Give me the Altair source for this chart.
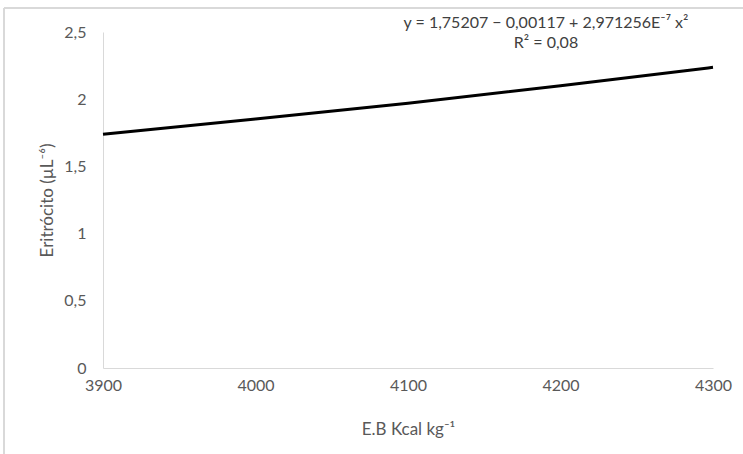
import altair as alt
import pandas as pd

# Data
energia = [3900, 4000, 4100, 4200, 4300]
eritrocito = [1.74, 1.853, 1.97, 2.10, 2.237]

x_ticks = [3900, 4000, 4100, 4200, 4300]
y_ticks = [0, 0.5, 1, 1.5, 2, 2.5]

eq_line1 = "y = 1,75207 \u2212 0,00117 + 2,971256E\u207b\u2077 x\u00b2"
eq_line2 = "R\u00b2 = 0,08"

FONT = "Lato"
GRAY = "#595959"

df = pd.DataFrame({"x": energia, "y": eritrocito})

W, H = 610, 336
PL, PT = 103, 32

x_enc = alt.X(
    "x:Q",
    scale=alt.Scale(domain=[3900, 4300], nice=False),
    axis=alt.Axis(
        values=x_ticks, format="d", ticks=False, grid=False,
        domainColor="#d9d9d9", domainWidth=1,
        labelFont=FONT, labelFontSize=16, labelColor=GRAY, labelPadding=9,
        labelFlush=False,
        title="E.B Kcal kg\u207b\u00b9", titleFont=FONT, titleFontSize=17,
        titleFontWeight="normal", titleColor=GRAY,
        titleX=W / 2, titleY=66, titleBaseline="alphabetic", titleAlign="center",
    ),
)
y_enc = alt.Y(
    "y:Q",
    scale=alt.Scale(domain=[0, 2.5], nice=False),
    axis=alt.Axis(
        values=y_ticks, ticks=False, grid=False,
        labelExpr="replace(format(datum.value, '~g'), '.', ',')",
        domainColor="#d9d9d9", domainWidth=1,
        labelFont=FONT, labelFontSize=16, labelColor=GRAY, labelPadding=17,
        labelFlush=False,
        title="Eritr\u00f3cito (\u00b5L\u207b\u2076)", titleFont=FONT, titleFontSize=17,
        titleFontWeight="normal", titleColor=GRAY,
        titleAngle=270, titleX=-47, titleY=H / 2, titleBaseline="bottom",
        titleAlign="center",
    ),
)

line = alt.Chart(df).mark_line(color="black", strokeWidth=3, interpolate="monotone").encode(
    x=x_enc, y=y_enc
)

ann_df = pd.DataFrame({"t": [eq_line1, eq_line2], "yy": [-4, 16]})
ann = alt.Chart(ann_df).mark_text(
    font=FONT, fontSize=16, color="#404040", align="center", baseline="alphabetic"
).encode(
    x=alt.value(443), y=alt.Y("yy:Q", scale=None, axis=None), text="t:N"
)

# outer chart border (decoration)
one = pd.DataFrame({"a": [0]})
border_left = alt.Chart(one).mark_rule(color="#d9d9d9", strokeWidth=2).encode(
    x=alt.value(4 - PL), y=alt.value(8 - PT), y2=alt.value(460 - PT)
)
border_top = alt.Chart(one).mark_rule(color="#d9d9d9", strokeWidth=2).encode(
    x=alt.value(4 - PL), x2=alt.value(760 - PL), y=alt.value(8 - PT)
)

chart = alt.layer(border_left, border_top, line, ann).properties(
    width=W, height=H,
    autosize=alt.AutoSizeParams(type="none"),
    padding={"left": PL, "top": PT, "right": 743 - PL - W, "bottom": 454 - PT - H},
).configure_view(stroke=None)

chart.save("out.html", embed_options={"renderer": "svg", "actions": False})
